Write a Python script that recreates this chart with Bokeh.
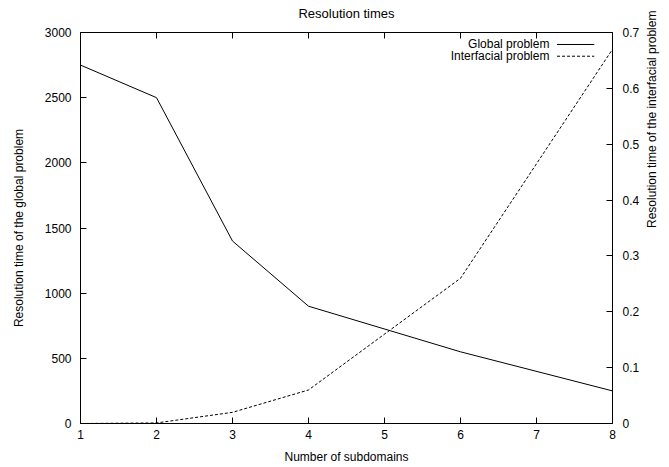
import math
from bokeh.plotting import figure
from bokeh.models import Range1d, LinearAxis, FixedTicker, Label, Arrow
from bokeh.embed import file_html
from bokeh.resources import INLINE

# ---- data ----
subdomains = [1, 2, 3, 4, 6, 8]
global_time = [2750, 2500, 1400, 900, 550, 250]
interfacial_time = [0.0, 0.001, 0.02, 0.06, 0.26, 0.67]

x_ticks = [1, 2, 3, 4, 5, 6, 7, 8]
y_ticks = [0, 500, 1000, 1500, 2000, 2500, 3000]
y2_ticks = [0, 0.1, 0.2, 0.3, 0.4, 0.5, 0.6, 0.7]
y2_labels = ["0", "0.1", "0.2", "0.3", "0.4", "0.5", "0.6", "0.7"]
legend_labels = ["Global problem", "Interfacial problem"]
title_text = "Resolution times"

FONT = "Liberation Sans"
FS = "12px"
DASH = "3 2"

p = figure(width=669, height=467, output_backend="svg", toolbar_location=None,
           x_range=Range1d(1, 8), y_range=Range1d(0, 3000),
           min_border_left=80, min_border_right=57, min_border_top=32,
           min_border_bottom=44)
p.extra_y_ranges = {"y2": Range1d(0, 0.7)}

p.background_fill_color = "white"
p.border_fill_color = "white"
p.outline_line_color = None
p.xgrid.visible = False
p.ygrid.visible = False


def style_axis(ax, label_standoff, axis_label_standoff):
    ax.axis_line_color = "black"
    ax.axis_line_width = 1
    ax.major_tick_line_color = "black"
    ax.major_tick_in = 6
    ax.major_tick_out = 0
    ax.minor_tick_line_color = None
    ax.major_label_text_font = FONT
    ax.major_label_text_font_size = FS
    ax.major_label_text_color = "black"
    ax.major_label_standoff = label_standoff
    ax.axis_label_text_font = FONT
    ax.axis_label_text_font_size = FS
    ax.axis_label_text_font_style = "normal"
    ax.axis_label_text_color = "black"
    ax.axis_label_standoff = axis_label_standoff


xa = p.xaxis[0]
xa.ticker = FixedTicker(ticks=x_ticks)
xa.axis_label = "Number of subdomains"
style_axis(xa, 6, 8)

ya = p.yaxis[0]
ya.ticker = FixedTicker(ticks=y_ticks)
ya.axis_label = "Resolution time of the global problem"
style_axis(ya, 9, 16)

y2 = LinearAxis(y_range_name="y2", ticker=FixedTicker(ticks=y2_ticks),
                axis_label="Resolution time of the interfacial problem")
y2.major_label_overrides = {t: s for t, s in zip(y2_ticks, y2_labels)}
style_axis(y2, 10, 10)
try:
    y2.axis_label_orientation = math.pi / 2
except Exception:
    pass
p.add_layout(y2, "right")

# mirrored ticks on top, no tick labels; the chart title is this axis' label
top = LinearAxis(ticker=FixedTicker(ticks=x_ticks), axis_label=title_text)
style_axis(top, 0, 12)
top.major_label_overrides = {t: "" for t in x_ticks}
top.axis_label_text_font_size = "13px"
p.add_layout(top, "above")

p.line(subdomains, global_time, line_color="black", line_width=1)
p.line(subdomains, interfacial_time, y_range_name="y2", line_color="black",
       line_width=1, line_dash=DASH)

# gnuplot-style key: text right-aligned, sample on its right
key_y = [2908, 2818]
key_dash = ["solid", DASH]
for lab, ky, dash in zip(legend_labels, key_y, key_dash):
    p.add_layout(Label(x=7.17, y=ky, text=lab, text_align="right",
                       text_baseline="middle", text_font=FONT,
                       text_font_size=FS, text_color="black"))
    p.add_layout(Arrow(x_start=7.27, y_start=ky, x_end=7.76, y_end=ky,
                       end=None, line_color="black", line_width=1,
                       line_dash=dash))

open("out.html", "w").write(file_html(p, INLINE))
